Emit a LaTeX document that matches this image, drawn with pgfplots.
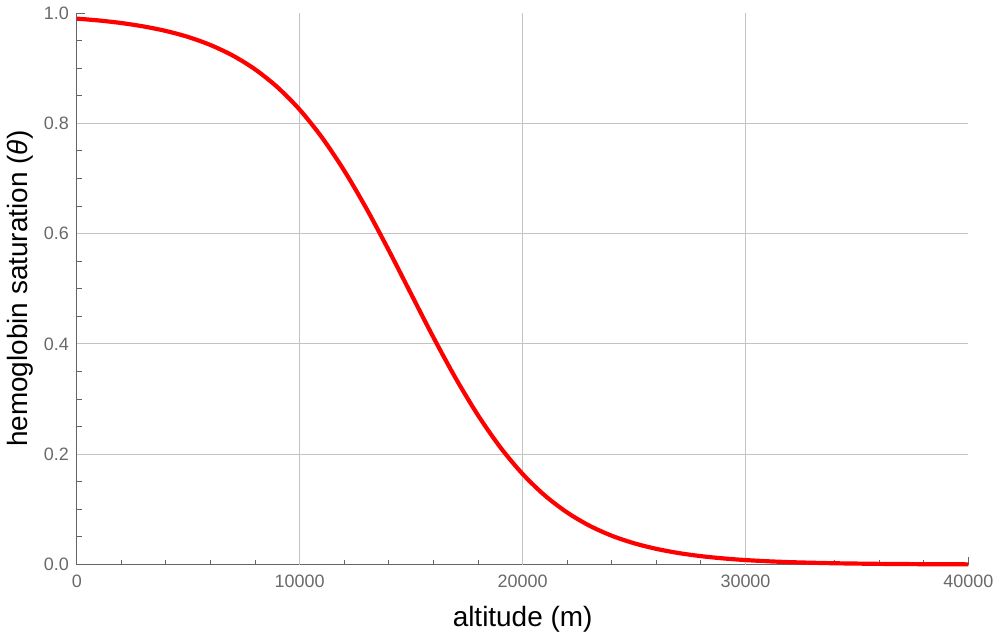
\documentclass[border=0pt]{standalone}
\usepackage{fontspec}
\setmainfont{Liberation Sans}
\usepackage{pgfplots}
\pgfplotsset{compat=1.18}
\definecolor{tickgray}{RGB}{105,105,105}
\definecolor{axgray}{RGB}{100,100,100}
\definecolor{gridgray}{RGB}{195,195,195}
\begin{document}
\begin{tikzpicture}
\begin{axis}[
    scale only axis,
    width=447pt, height=276.5pt,
    xmin=0, xmax=40000, ymin=0, ymax=1,
    axis lines*=left,
    axis line style={axgray, line width=0.6pt, -},
    xtick={0,10000,20000,30000,40000},
    ytick={0,0.2,0.4,0.6,0.8,1.0},
    minor x tick num=4,
    minor y tick num=3,
    tick align=inside,
    major tick length=4pt,
    minor tick length=2.5pt,
    tick style={axgray, line width=0.5pt},
    extra x ticks={10000,20000,30000},
    extra x tick labels={},
    extra y ticks={0.2,0.4,0.6,0.8},
    extra y tick labels={},
    extra tick style={grid=major, major tick length=0pt},
    major grid style={gridgray, line width=0.5pt},
    scaled x ticks=false,
    /pgf/number format/assume math mode=true,
    xticklabel style={/pgf/number format/.cd, fixed, 1000 sep={}, precision=0},
    yticklabel style={/pgf/number format/.cd, fixed, fixed zerofill, precision=1},
    tick label style={font=\fontsize{9}{10.8}\selectfont, text=tickgray},
    xticklabel shift=1.5pt,
    yticklabel shift=0.5pt,
    label style={font=\fontsize{14}{16.8}\selectfont, text=black},
    xlabel={altitude (m)},
    ylabel={hemoglobin saturation (\textit{θ})},
    xlabel style={at={([yshift=-27.5pt]axis description cs:0.5,0)}, anchor=center},
    ylabel style={at={([xshift=-28.5pt]axis description cs:0,0.5)}, anchor=center},
    clip=false,
]
\addplot[red, line width=2.1pt, smooth] coordinates {
(0,0.9898) (1000,0.9864) (2000,0.9818) (3000,0.9756) (4000,0.9674)
(5000,0.9565) (6000,0.9419) (7000,0.9228) (8000,0.8978) (9000,0.8655)
(10000,0.8247) (11000,0.7742) (12000,0.7140) (13000,0.6450) (14000,0.5694)
(15000,0.4904) (16000,0.4118) (17000,0.3376) (18000,0.2706) (19000,0.2126)
(20000,0.1642) (21000,0.1251) (22000,0.0943) (23000,0.0704) (24000,0.0522)
(25000,0.0386) (26000,0.0284) (27000,0.0208) (28000,0.0152) (29000,0.0111)
(30000,0.0081) (31000,0.0059) (32000,0.0043) (33000,0.0032) (34000,0.0023)
(35000,0.0017) (36000,0.0012) (37000,0.0009) (38000,0.0006) (39000,0.0005)
(40000,0.0003)
};
\end{axis}
\path (-38.5pt,-38.5pt) rectangle (461.5pt,281.5pt);
\end{tikzpicture}
\end{document}
